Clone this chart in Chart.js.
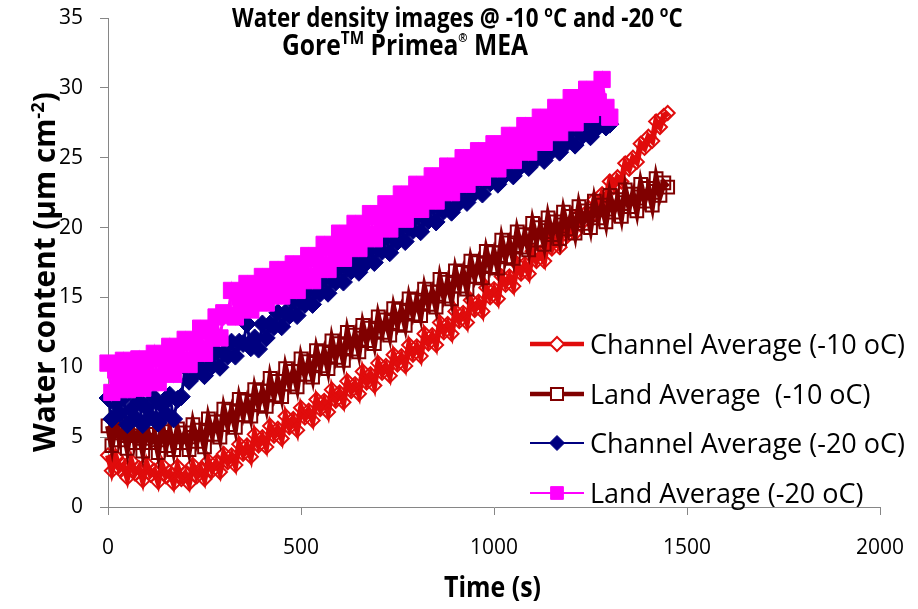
<!DOCTYPE html>
<html>
<head>
<meta charset="utf-8">
<script src="https://cdn.jsdelivr.net/npm/chart.js@4.4.0/dist/chart.umd.min.js"></script>
<style>
  html, body { margin: 0; padding: 0; background: #fff; }
</style>
</head>
<body>
<canvas id="waterChart" width="918" height="609"></canvas>
<script>
// -10 C run, sampled every 10 s
const times10 = [
  0, 10, 20, 30, 40, 50, 60, 70, 80, 90, 100, 110, 120, 130, 140, 150, 160, 170, 180, 190,
  200, 210, 220, 230, 240, 250, 260, 270, 280, 290, 300, 310, 320, 330, 340, 350, 360, 370, 380, 390,
  400, 410, 420, 430, 440, 450, 460, 470, 480, 490, 500, 510, 520, 530, 540, 550, 560, 570, 580, 590,
  600, 610, 620, 630, 640, 650, 660, 670, 680, 690, 700, 710, 720, 730, 740, 750, 760, 770, 780, 790,
  800, 810, 820, 830, 840, 850, 860, 870, 880, 890, 900, 910, 920, 930, 940, 950, 960, 970, 980, 990,
  1000, 1010, 1020, 1030, 1040, 1050, 1060, 1070, 1080, 1090, 1100, 1110, 1120, 1130, 1140, 1150, 1160, 1170, 1180, 1190,
  1200, 1210, 1220, 1230, 1240, 1250, 1260, 1270, 1280, 1290, 1300, 1310, 1320, 1330, 1340, 1350, 1360, 1370, 1380, 1390,
  1400, 1410, 1420, 1430, 1440, 1450
];
const channel10 = [
  3.7, 2.6, 3.6, 2.7, 3.0, 2.1, 3.3, 2.4, 2.8, 1.9, 3.1, 2.3, 2.6, 1.8, 3.0, 2.2, 2.5, 1.7, 2.9, 2.0,
  2.4, 1.7, 3.0, 2.2, 2.7, 2.0, 3.3, 2.6, 3.2, 2.5, 3.8, 3.2, 3.7, 3.0, 4.5, 3.8, 4.4, 3.6, 5.2, 4.4,
  5.0, 4.3, 5.8, 5.1, 5.6, 4.9, 6.5, 5.7, 6.3, 5.5, 7.1, 6.4, 6.9, 6.2, 7.7, 7.0, 7.6, 6.8, 8.4, 7.6,
  8.2, 7.5, 9.0, 8.3, 8.8, 8.1, 9.7, 8.9, 9.5, 8.7, 10.3, 9.6, 10.1, 9.4, 10.9, 10.2, 10.8, 10.1, 11.6, 10.9,
  11.5, 10.8, 12.4, 11.7, 12.3, 11.6, 13.2, 12.5, 13.1, 12.4, 14.0, 13.3, 13.9, 13.2, 14.8, 14.1, 14.7, 14.0, 15.7, 15.0,
  15.6, 14.9, 16.5, 15.9, 16.5, 15.8, 17.4, 16.7, 17.4, 16.7, 18.3, 17.6, 18.2, 17.6, 19.2, 18.5, 19.1, 18.6, 19.9, 19.4,
  20.0, 19.6, 20.9, 20.4, 21.1, 20.7, 22.0, 21.6, 22.4, 22.0, 23.3, 22.9, 23.6, 23.3, 24.6, 24.2, 25.0, 24.7, 26.0, 25.7,
  26.5, 26.2, 27.6, 27.2, 28.0, 28.2
];
const land10 = [
  5.8, 4.4, 6.2, 4.8, 5.6, 4.2, 6.0, 4.6, 5.4, 4.0, 5.7, 4.6, 5.2, 3.9, 5.9, 4.4, 5.4, 4.1, 5.6, 4.6,
  5.3, 4.1, 5.9, 4.7, 5.5, 4.3, 6.3, 5.2, 6.1, 5.0, 7.0, 5.9, 6.9, 5.7, 7.7, 6.6, 7.6, 6.5, 8.4, 7.3,
  8.3, 7.2, 9.2, 8.0, 9.0, 7.9, 9.9, 8.8, 9.7, 8.6, 10.6, 9.5, 10.4, 9.3, 11.2, 10.1, 11.1, 9.9, 11.9, 10.7,
  11.7, 10.5, 12.5, 11.3, 12.3, 11.1, 13.0, 11.9, 12.8, 11.7, 13.6, 12.5, 13.4, 12.3, 14.2, 13.1, 14.1, 13.0, 14.9, 13.8,
  14.8, 13.7, 15.6, 14.5, 15.4, 14.3, 16.3, 15.1, 16.1, 14.9, 16.9, 15.8, 16.8, 15.6, 17.6, 16.5, 17.5, 16.4, 18.3, 17.2,
  18.2, 17.1, 19.1, 17.9, 18.9, 17.8, 19.7, 18.6, 19.5, 18.4, 20.3, 19.1, 20.0, 18.8, 20.7, 19.5, 20.4, 19.2, 21.1, 19.9,
  20.8, 19.6, 21.5, 20.3, 21.2, 20.0, 21.9, 20.7, 21.6, 20.4, 22.3, 21.1, 22.0, 20.8, 22.7, 21.5, 22.4, 21.2, 23.1, 21.9,
  22.8, 21.6, 23.5, 22.3, 23.2, 22.9
];

// -20 C run, sampled every 10 s
const times20 = [
  0, 10, 20, 30, 40, 50, 60, 70, 80, 90, 100, 110, 120, 130, 140, 150, 160, 170, 180, 190,
  200, 210, 220, 230, 240, 250, 260, 270, 280, 290, 300, 310, 320, 330, 340, 350, 360, 370, 380, 390,
  400, 410, 420, 430, 440, 450, 460, 470, 480, 490, 500, 510, 520, 530, 540, 550, 560, 570, 580, 590,
  600, 610, 620, 630, 640, 650, 660, 670, 680, 690, 700, 710, 720, 730, 740, 750, 760, 770, 780, 790,
  800, 810, 820, 830, 840, 850, 860, 870, 880, 890, 900, 910, 920, 930, 940, 950, 960, 970, 980, 990,
  1000, 1010, 1020, 1030, 1040, 1050, 1060, 1070, 1080, 1090, 1100, 1110, 1120, 1130, 1140, 1150, 1160, 1170, 1180, 1190,
  1200, 1210, 1220, 1230, 1240, 1250, 1260, 1270, 1280, 1290, 1300
];
const channel20 = [
  7.8, 6.3, 7.4, 6.7, 7.8, 5.9, 7.0, 6.4, 7.6, 5.9, 7.1, 6.5, 7.8, 6.0, 7.3, 6.7, 8.0, 6.3, 7.7, 7.9,
  10.0, 9.0, 9.9, 9.6, 10.5, 9.4, 10.3, 10.1, 11.1, 10.0, 11.0, 10.8, 11.8, 10.8, 11.8, 11.7, 13.1, 11.4, 12.1, 11.3,
  13.1, 12.1, 13.1, 12.9, 13.9, 12.9, 13.9, 13.7, 14.7, 13.7, 14.7, 14.5, 15.5, 14.5, 15.5, 15.3, 16.3, 15.3, 16.3, 16.1,
  17.1, 16.1, 17.1, 16.9, 17.8, 16.8, 17.7, 17.5, 18.5, 17.5, 18.5, 18.3, 19.3, 18.2, 19.2, 19.0, 20.0, 19.0, 20.0, 19.8,
  20.8, 19.7, 20.7, 20.5, 21.5, 20.4, 21.4, 21.2, 22.1, 21.1, 22.1, 21.8, 22.8, 21.8, 22.7, 22.5, 23.5, 22.4, 23.4, 23.2,
  24.1, 23.1, 24.0, 23.8, 24.7, 23.7, 24.6, 24.4, 25.3, 24.3, 25.2, 24.9, 25.9, 24.8, 25.7, 25.5, 26.4, 25.4, 26.3, 26.1,
  27.0, 25.9, 26.9, 26.6, 27.6, 26.5, 27.5, 27.2, 28.0, 27.2, 27.4
];
const land20 = [
  10.3, 8.2, 9.8, 9.0, 10.5, 8.4, 9.9, 9.1, 10.6, 8.5, 10.0, 9.3, 11.0, 8.9, 10.6, 9.9, 11.5, 9.5, 11.1, 10.5,
  12.0, 10.2, 11.8, 11.3, 12.8, 11.0, 12.6, 12.1, 13.6, 12.1, 13.9, 13.7, 15.5, 13.6, 15.1, 14.6, 16.0, 14.1, 15.6, 15.1,
  16.5, 14.6, 16.1, 15.5, 17.0, 15.1, 16.5, 16.0, 17.4, 15.5, 17.0, 16.5, 18.0, 16.2, 17.8, 17.3, 18.8, 17.0, 18.6, 18.1,
  19.6, 17.8, 19.3, 18.8, 20.3, 18.5, 20.0, 19.5, 21.0, 19.2, 20.8, 20.2, 21.7, 19.9, 21.4, 20.9, 22.4, 20.6, 22.1, 21.6,
  23.1, 21.3, 22.8, 22.2, 23.7, 21.9, 23.4, 22.9, 24.4, 22.5, 24.1, 23.5, 25.0, 23.1, 24.6, 24.0, 25.5, 23.6, 25.1, 24.5,
  26.0, 24.2, 25.7, 25.1, 26.6, 24.8, 26.3, 25.8, 27.3, 25.4, 27.0, 26.4, 27.9, 26.1, 27.6, 27.1, 28.6, 26.8, 28.3, 27.8,
  29.3, 27.5, 29.0, 28.4, 29.9, 28.1, 29.6, 29.0, 30.6, 28.6, 27.9
];

const seriesNames = [
  'Channel Average (-10 oC)',
  'Land Average  (-10 oC)',
  'Channel Average (-20 oC)',
  'Land Average (-20 oC)'
];
const xTicks = [0, 500, 1000, 1500, 2000];
const yTicks = [0, 5, 10, 15, 20, 25, 30, 35];

const RED = '#E00C0C';
const DARK_RED = '#800000';
const NAVY = '#000080';
const MAGENTA = '#FF00FF';
const AXIS_GREY = '#868686';
const FONT = "'Open Sans', sans-serif";

const toPoints = (xs, ys) => xs.map((x, i) => ({ x: x, y: ys[i] }));

// bold text with superscript runs (degree "o", TM, cm^-2), squeezed by sx
function richWidth(ctx, parts, size) {
  let w = 0;
  parts.forEach(p => {
    ctx.font = `bold ${size * (p.scale || 1)}px ${FONT}`;
    w += ctx.measureText(p.text).width;
  });
  return w;
}

function drawRich(ctx, parts, x, y, size, sx) {
  ctx.save();
  ctx.translate(x, y);
  ctx.scale(sx, 1);
  let cx = 0;
  parts.forEach(p => {
    ctx.font = `bold ${size * (p.scale || 1)}px ${FONT}`;
    ctx.fillText(p.text, cx, -(p.rise || 0) * size);
    cx += ctx.measureText(p.text).width;
  });
  ctx.restore();
}

// font size that makes a line span the given width
function sizeFor(ctx, parts, width, sx) {
  return 20 * width / (richWidth(ctx, parts, 20) * sx);
}

const titleLine1 = [
  { text: 'Water density images @ -10 ' }, { text: 'o', scale: 0.62, rise: 0.38 },
  { text: 'C and -20 ' }, { text: 'o', scale: 0.62, rise: 0.38 }, { text: 'C' }
];
const titleLine2 = [
  { text: 'Gore' }, { text: 'TM', scale: 0.62, rise: 0.38 },
  { text: ' Primea' }, { text: '®', scale: 0.45, rise: 0.45 }, { text: ' MEA' }
];
const yTitle = [
  { text: 'Water content (μm cm' }, { text: '-2', scale: 0.62, rise: 0.38 }, { text: ')' }
];
const xTitle = [{ text: 'Time (s)' }];

const annotations = {
  id: 'annotations',
  afterDraw(chart) {
    const ctx = chart.ctx;
    ctx.save();
    ctx.fillStyle = '#000';
    ctx.textAlign = 'left';
    ctx.textBaseline = 'alphabetic';

    const squeeze = 0.86;
    const tSize = sizeFor(ctx, titleLine1, 451, squeeze);
    drawRich(ctx, titleLine1, 232, 27, tSize, squeeze);
    const t2Size = tSize * 1.1;
    const w2 = richWidth(ctx, titleLine2, t2Size) * squeeze;
    drawRich(ctx, titleLine2, 405 - w2 / 2, 55, t2Size, squeeze);

    drawRich(ctx, xTitle, 444, 597, sizeFor(ctx, xTitle, 97, squeeze), squeeze);

    // rotated y axis title
    const ySize = sizeFor(ctx, yTitle, 360, 1);
    ctx.save();
    ctx.translate(55, 272);
    ctx.rotate(-Math.PI / 2);
    drawRich(ctx, yTitle, -richWidth(ctx, yTitle, ySize) / 2, 0, ySize, 1);
    ctx.restore();

    // legend: line sample, marker and label for each series
    const rows = [344, 394, 443, 493];
    chart.data.datasets.forEach((ds, i) => {
      const y = rows[i];
      ctx.strokeStyle = ds.borderColor;
      ctx.lineWidth = ds.legendLine;
      ctx.beginPath();
      ctx.moveTo(530, y);
      ctx.lineTo(584, y);
      ctx.stroke();

      // open markers show a white face in the key
      ctx.fillStyle = ds.legendFill;
      ctx.strokeStyle = ds.pointBorderColor;
      ctx.lineWidth = ds.pointBorderWidth;
      Chart.helpers.drawPoint(ctx, {
        pointStyle: ds.pointStyle,
        rotation: 0,
        radius: ds.legendRadius,
        borderWidth: ds.pointBorderWidth
      }, 557, y);

      ctx.fillStyle = '#000';
      ctx.font = `27px ${FONT}`;
      ctx.fillText(ds.label, 590, y + 10);
    });
    ctx.restore();
  }
};

// keep the plot box fixed: no extra room for overhanging tick labels
const noOverhang = s => {
  s.paddingTop = 0;
  s.paddingBottom = 0;
  s.paddingLeft = 0;
  s.paddingRight = 0;
};

new Chart(document.getElementById('waterChart'), {
  type: 'line',
  data: {
    datasets: [
      {
        label: seriesNames[0],
        data: toPoints(times10, channel10),
        borderColor: RED,
        borderWidth: 6,
        pointStyle: 'rectRot',
        pointRadius: 7,
        pointBackgroundColor: 'rgba(255,255,255,0)',
        pointBorderColor: RED,
        pointBorderWidth: 2,
        legendLine: 4.5,
        legendRadius: 7,
        legendFill: '#fff',
        order: 4
      },
      {
        label: seriesNames[1],
        data: toPoints(times10, land10),
        borderColor: DARK_RED,
        borderWidth: 6,
        pointStyle: 'rect',
        pointRadius: 9,
        pointBackgroundColor: 'rgba(255,255,255,0)',
        pointBorderColor: DARK_RED,
        pointBorderWidth: 2,
        legendLine: 4.5,
        legendRadius: 8.5,
        legendFill: '#fff',
        order: 3
      },
      {
        label: seriesNames[2],
        data: toPoints(times20, channel20),
        borderColor: NAVY,
        borderWidth: 3,
        pointStyle: 'rectRot',
        pointRadius: 9,
        pointBackgroundColor: NAVY,
        pointBorderColor: NAVY,
        pointBorderWidth: 1,
        legendLine: 2,
        legendRadius: 7.5,
        legendFill: NAVY,
        order: 2
      },
      {
        label: seriesNames[3],
        data: toPoints(times20, land20),
        borderColor: MAGENTA,
        borderWidth: 3,
        pointStyle: 'rect',
        pointRadius: 11.5,
        pointBackgroundColor: MAGENTA,
        pointBorderColor: MAGENTA,
        pointBorderWidth: 1,
        legendLine: 2,
        legendRadius: 9,
        legendFill: MAGENTA,
        order: 1
      }
    ]
  },
  options: {
    responsive: false,
    devicePixelRatio: 1,
    animation: false,
    layout: { padding: { left: 0, top: 18, right: 38, bottom: 0 } },
    datasets: { line: { clip: false, tension: 0 } },
    plugins: {
      legend: { display: false },
      title: { display: false },
      tooltip: { enabled: false }
    },
    scales: {
      x: {
        type: 'linear',
        min: 0,
        max: 2000,
        afterBuildTicks: s => { s.ticks = xTicks.map(v => ({ value: v })); },
        afterFit: s => { s.height = 102; noOverhang(s); },
        ticks: {
          color: '#000',
          font: { family: FONT, size: 21 },
          padding: 20,
          maxRotation: 0,
          callback: v => String(v)
        },
        grid: { drawOnChartArea: false, drawTicks: true, tickLength: 8, color: AXIS_GREY },
        border: { display: true, color: AXIS_GREY, width: 1 }
      },
      y: {
        type: 'linear',
        min: 0,
        max: 35,
        afterBuildTicks: s => { s.ticks = yTicks.map(v => ({ value: v })); },
        afterFit: s => { s.width = 108; noOverhang(s); },
        ticks: {
          color: '#000',
          font: { family: FONT, size: 21 },
          padding: 17,
          callback: v => String(v)
        },
        grid: { drawOnChartArea: false, drawTicks: true, tickLength: 8, color: AXIS_GREY },
        border: { display: true, color: AXIS_GREY, width: 1 }
      }
    }
  },
  plugins: [annotations]
});
</script>
</body>
</html>
